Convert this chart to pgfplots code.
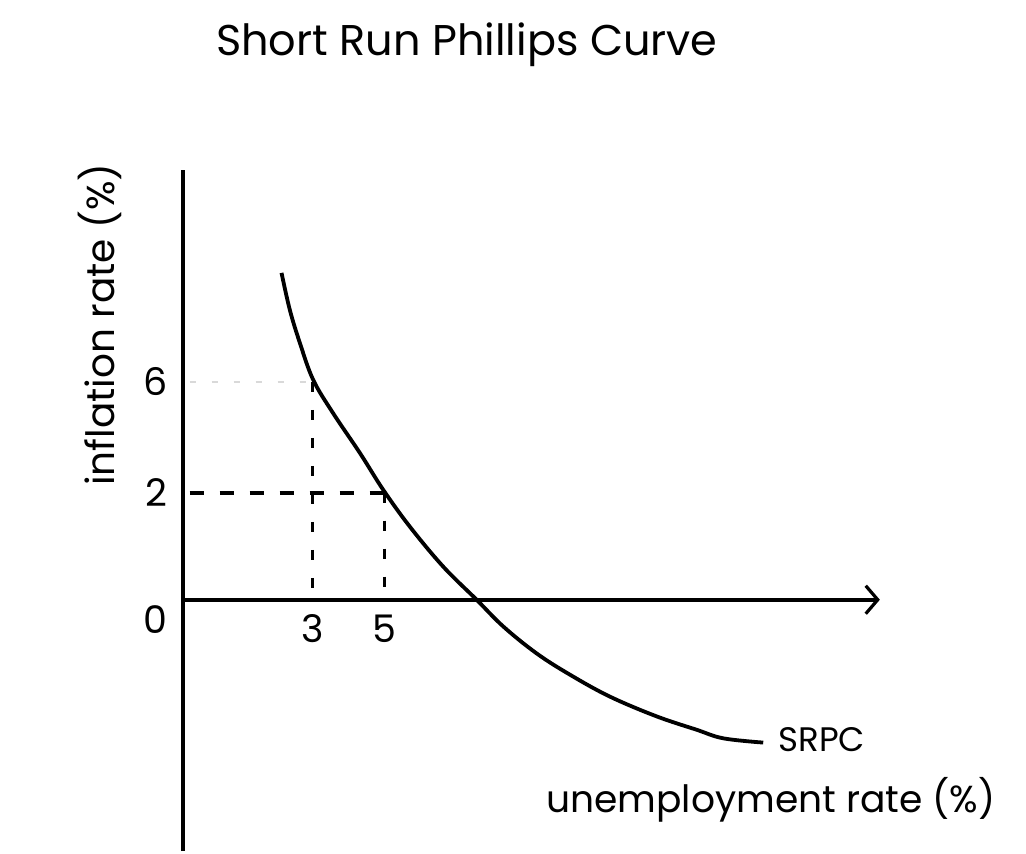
\documentclass[border=0pt]{standalone}
\usepackage{pgfplots}
\pgfplotsset{compat=1.18}
\usepackage{fontspec}
\setmainfont{Poppins}
\usetikzlibrary{arrows.meta}
\begin{document}
\begin{tikzpicture}
\begin{axis}[
  x=18pt, y=26.75pt,
  xmin=-0.61, xmax=18.75, ymin=-4.7, ymax=8.04,
  axis y line*=left, axis x line*=middle,
  clip=false,
  axis line style={line width=1.8pt, black},
  x axis line style={-{Straight Barb[length=6pt,width=14pt,line width=1.6pt]}},
  y axis line style={-},
  xtick={3,5}, xticklabels={3,5},
  ytick={2,4.07}, yticklabels={2,6},
  extra y ticks={0}, extra y tick labels={0},
  extra y tick style={yticklabel style={yshift=-10pt}},
  major tick length=0pt,
  hide obscured x ticks=false, hide obscured y ticks=false,
  /pgf/number format/assume math mode=true,
  tick label style={font=\fontsize{19}{22}\selectfont},
  xticklabel style={yshift=-4pt},
  yticklabel style={xshift=-4pt},
]
% SRPC curve
\addplot[black, line width=1.9pt, smooth, tension=0.6] coordinates {
  (2.13,6.11) (2.36,5.42) (2.64,4.80) (3.01,4.11) (3.56,3.49) (4.31,2.74)
  (4.95,2.06) (5.69,1.37) (6.62,0.62) (7.55,0.00) (8.29,-0.50) (9.21,-1.00)
  (10.14,-1.40) (11.25,-1.81) (12.55,-2.18) (13.66,-2.43) (14.40,-2.59) (15.51,-2.67)
};
% guide lines
\addplot[black, line width=1.8pt, dash pattern=on 7pt off 8pt] coordinates {(-0.42,2) (5,2)};
\addplot[black, line width=1.5pt, dash pattern=on 5pt off 9pt] coordinates {(5,2) (5,0)};
\addplot[black, line width=1.5pt, dash pattern=on 5pt off 9pt] coordinates {(3,4.07) (3,0)};
\addplot[gray!30, line width=1.4pt, dash pattern=on 3pt off 8pt] coordinates {(-0.42,4.07) (3,4.07)};
% texts
\node[font=\fontsize{21.5}{25}\selectfont] at (axis cs:7.28,10.37) {Short Run Phillips Curve};
\node[font=\fontsize{19.5}{23}\selectfont, rotate=90] at (axis cs:-2.92,5.14) {inflation rate (\%)};
\node[font=\fontsize{18.8}{22}\selectfont] at (axis cs:15.72,-3.74) {unemployment rate (\%)};
\node[font=\fontsize{17}{20}\selectfont, anchor=west, inner sep=0pt] at (axis cs:15.92,-2.62) {SRPC};
% page extent
\path (axis cs:-5.69,-4.75) rectangle (axis cs:22.81,11.21);
\end{axis}
\end{tikzpicture}
\end{document}
